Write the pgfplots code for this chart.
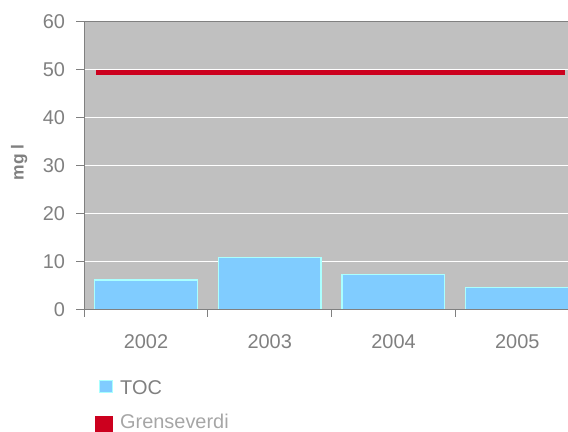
\documentclass[border=0pt]{standalone}
\usepackage{pgfplots}
\pgfplotsset{compat=1.18}
\usepackage{fontspec}
\setmainfont{Liberation Sans}
\definecolor{bgGray}{RGB}{192,192,192}
\definecolor{axGray}{RGB}{128,128,128}
\definecolor{txtGray}{RGB}{128,128,128}
\definecolor{lightTxt}{RGB}{166,166,166}
\definecolor{tocfill}{RGB}{128,204,255}
\definecolor{tocedge}{RGB}{170,255,255}
\definecolor{redline}{RGB}{204,0,30}
\begin{document}
\begin{tikzpicture}
\begin{axis}[
  scale only axis,
  width=484bp, height=287.6bp,
  at={(84bp,122.7bp)}, anchor=south west,
  xmin=-0.5, xmax=3.41,
  ymin=0, ymax=60,
  ytick={0,10,20,30,40,50,60},
  xtick={-0.5,0.5,1.5,2.5,3.5},
  xticklabels={2002,2003,2004,2005,},
  xticklabel style={xshift=61.95bp, yshift=-14bp},
  yticklabel style={xshift=-8bp},
  tick align=outside,
  xtick pos=bottom, ytick pos=left,
  major tick length=7.5bp,
  tick style={axGray, line width=1bp},
  ymajorgrids,
  grid style={white, line width=1.3bp},
  axis line style={draw=none},
  axis background/.style={fill=bgGray},
  ticklabel style={font=\fontsize{20}{24}\selectfont, text=txtGray},
  /pgf/number format/assume math mode=true,
  ylabel={\fontsize{17.5}{20}\selectfont\bfseries mg l},
  every axis y label/.style={at={(axis description cs:-0.134,0.511)}, anchor=center, rotate=90, text=txtGray},
  legend style={at={(axis description cs:0,0)}, anchor=north west, xshift=11bp, yshift=-69bp,
    draw=none, fill=none, font=\fontsize{20}{24}\selectfont, row sep=14bp, inner sep=0pt,
    nodes={inner sep=2bp}},
  legend cell align=left,
]
\addplot[ybar, bar width=0.83, fill=tocfill, draw=tocedge, line width=1.2bp,
  legend image code/.code={\draw[fill=tocfill,draw=tocedge,line width=1.2bp] (5.5bp,-4.5bp) rectangle (18bp,8bp);}]
  coordinates {(0,6.1) (1,10.8) (2,7.2) (3,4.6)};
\addlegendentry{\hspace{5bp}\textcolor{txtGray}{TOC}}
\addplot[redline, line width=5bp,
  legend image code/.code={\path[fill=redline, draw=none] (1bp,-12bp) rectangle (19bp,6bp);}]
  coordinates {(-0.403,49.5) (3.382,49.5)};
\addlegendentry{\hspace{5bp}\textcolor{lightTxt}{Grenseverdi}}
\draw[axGray, line width=1.5bp] (rel axis cs:0,1) -- (rel axis cs:0,0) -- (rel axis cs:1,0);
\draw[axGray, line width=1.5bp] (rel axis cs:0,1) -- (rel axis cs:1,1);
\end{axis}
\pgfresetboundingbox
\path[use as bounding box] (0,0) rectangle (568bp,432bp);
\end{tikzpicture}
\end{document}
